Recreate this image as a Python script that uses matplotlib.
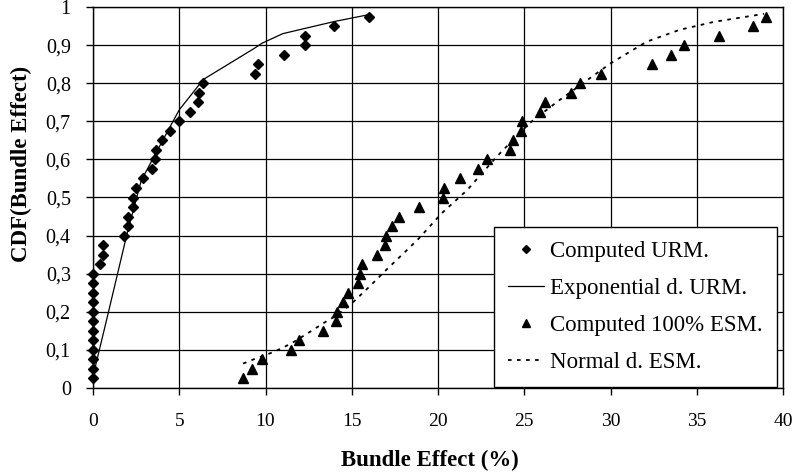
import matplotlib
matplotlib.use("Agg")
import matplotlib.pyplot as plt
from matplotlib.ticker import FuncFormatter, MultipleLocator

plt.rcParams['font.family'] = ['Liberation Serif', 'DejaVu Serif']

# CDF levels for the computed points
urm_cdf = [0.025, 0.05, 0.075, 0.1, 0.125, 0.15, 0.175, 0.2, 0.225, 0.25, 0.275, 0.3,
           0.325, 0.35, 0.375, 0.4, 0.425, 0.45, 0.475, 0.5, 0.525, 0.55, 0.575, 0.6,
           0.625, 0.65, 0.675, 0.7, 0.725, 0.75, 0.775, 0.8, 0.825, 0.85, 0.875, 0.9,
           0.925, 0.95, 0.975]
urm_effect = [0, 0, 0, 0, 0, 0, 0, 0, 0, 0, 0, 0,
              0.41, 0.56, 0.58, 1.8, 2.05, 2.0, 2.3, 2.34, 2.49, 2.9, 3.4, 3.6,
              3.65, 4.0, 4.46, 4.99, 5.6, 6.11, 6.15, 6.38, 9.39, 9.55, 11.09, 12.27,
              12.31, 13.99, 15.98]

esm_cdf = urm_cdf
esm_effect = [8.72, 9.24, 9.82, 11.46, 11.92, 13.31, 14.09, 14.14, 14.47, 14.8, 15.38, 15.48,
              15.61, 16.44, 16.93, 17.0, 17.31, 17.76, 18.92, 20.31, 20.35, 21.28, 22.34, 22.82,
              24.17, 24.33, 24.81, 24.85, 25.91, 26.2, 27.69, 28.23, 29.43, 32.39, 33.53, 34.26,
              36.31, 38.28, 39.01]

# fitted exponential distribution (URM)
exp_x = [0.05, 0.9, 2.0, 2.8, 4.4, 5.0, 6.4, 9.3, 9.8, 11.0, 12.4, 14.0, 16.0]
exp_y = [0.04, 0.2, 0.41, 0.545, 0.68, 0.73, 0.81, 0.89, 0.905, 0.93, 0.945, 0.962, 0.98]

# fitted normal distribution (ESM)
norm_x = [8.7, 9.3, 10.5, 11.5, 12.6, 13.35, 14.1, 15.0, 16.0, 17.0, 18.2, 18.9, 20.2,
          21.7, 23.4, 25.3, 26.9, 28.8, 30.0, 32.1, 34.0, 36.0, 38.9]
norm_y = [0.064, 0.075, 0.095, 0.117, 0.148, 0.17, 0.19, 0.222, 0.265, 0.31, 0.362, 0.393, 0.458,
          0.52, 0.607, 0.695, 0.751, 0.813, 0.852, 0.909, 0.94, 0.961, 0.982]

fig = plt.figure(figsize=(7.95, 4.76), dpi=100)
ax = fig.add_axes([93 / 795, 1 - 388 / 476, 690 / 795, 381 / 476])

ax.plot(urm_effect, urm_cdf, linestyle='none', marker='D', ms=5.2, color='black',
        clip_on=False, zorder=3, label='Computed URM.')
ax.plot(exp_x, exp_y, '-', color='black', lw=0.9, zorder=2, label='Exponential d. URM.')
ax.plot(esm_effect, esm_cdf, linestyle='none', marker='^', ms=7.5, color='black',
        clip_on=False, zorder=3, label='Computed 100% ESM.')
ax.plot(norm_x, norm_y, color='black', lw=1.3, linestyle=(0, (2, 3)), zorder=2,
        label='Normal d. ESM.')

ax.set_xlim(0, 40)
ax.set_ylim(0, 1)
ax.xaxis.set_major_locator(MultipleLocator(5))
ax.yaxis.set_major_locator(MultipleLocator(0.1))
ax.yaxis.set_major_formatter(FuncFormatter(lambda v, p: '{:g}'.format(round(v, 1)).replace('.', ',')))

ax.grid(True, color='black', lw=0.9)
ax.set_axisbelow(True)
for s in ax.spines.values():
    s.set_color('black')
    s.set_linewidth(1.0)

ax.tick_params(axis='x', direction='out', length=5, width=1, pad=13, labelsize=14)
ax.tick_params(axis='y', direction='out', length=5, width=1, pad=11, labelsize=14.5)

ax.set_xlabel('Bundle Effect (%)', fontsize=16.5, fontweight='bold', va='center')
ax.xaxis.set_label_coords(0.488, -0.189)
ax.set_ylabel('CDF(Bundle Effect)', fontsize=16.5, fontweight='bold', va='center')
ax.yaxis.set_label_coords(-0.103, 0.588)

leg = ax.legend(loc='lower right', bbox_to_anchor=(0.991, 0.003), borderaxespad=0,
                fontsize=16.5, frameon=True, fancybox=False, framealpha=1,
                edgecolor='black', borderpad=0.6, handlelength=1.55,
                handletextpad=0.3, labelspacing=0.7, markerscale=0.7)
leg.get_frame().set_linewidth(1.0)

fig.savefig('out.png', dpi=100)
